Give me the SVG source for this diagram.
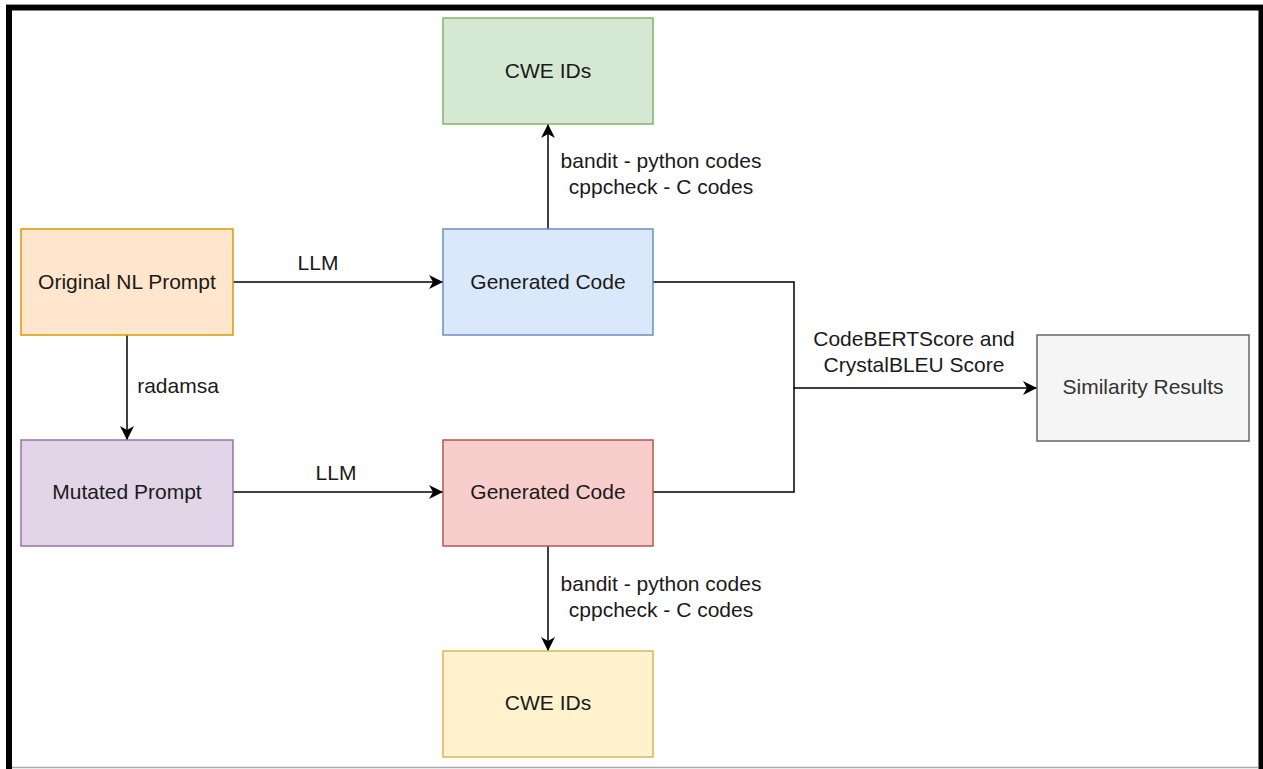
<svg xmlns="http://www.w3.org/2000/svg" width="1263" height="769" viewBox="0 0 1263 769">
<defs>
<marker id="arr" markerUnits="userSpaceOnUse" markerWidth="16" markerHeight="14" refX="14" refY="7" orient="auto">
<path d="M0,0 L14,7 L0,14 L4,7 Z" fill="#000"/>
</marker>
<style>
.n{stroke-width:1.5}
.t{font-family:"Liberation Sans",Arial,sans-serif;font-size:21px;fill:#1a1a1a;text-anchor:middle}
.l{font-family:"Liberation Sans",Arial,sans-serif;font-size:21px;fill:#1a1a1a;text-anchor:middle}
.c{fill:none;stroke:#000;stroke-width:1.5}
</style>
</defs>
<rect x="0" y="0" width="1263" height="769" fill="#fff"/>
<g id="frame">
<line x1="6" y1="4.5" x2="1263" y2="4.5" stroke="#999" stroke-width="1"/>
<rect x="6" y="5" width="1257" height="5.5" fill="#000"/>
<rect x="6" y="5" width="6" height="764" fill="#000"/>
<rect x="1258.5" y="5" width="4.5" height="764" fill="#000"/>
<line x1="12" y1="767.5" x2="1258" y2="767.5" stroke="#aaa" stroke-width="1.5"/>
</g>
<g id="connectors">
<path class="c" d="M233,282 H443" marker-end="url(#arr)"/>
<path class="c" d="M127,335 V440" marker-end="url(#arr)"/>
<path class="c" d="M233,492 H443" marker-end="url(#arr)"/>
<path class="c" d="M548,229 V124" marker-end="url(#arr)"/>
<path class="c" d="M548,546 V651" marker-end="url(#arr)"/>
<path class="c" d="M653,282 H794 V388 H1037" marker-end="url(#arr)"/>
<path class="c" d="M653,492 H794 V388"/>
<text class="l" x="318" y="270">LLM</text>
<text class="l" x="336" y="480">LLM</text>
<text class="l" x="178" y="393">radamsa</text>
<text class="l" x="661" y="168">bandit - python codes</text>
<text class="l" x="661" y="194">cppcheck - C codes</text>
<text class="l" x="661" y="591">bandit - python codes</text>
<text class="l" x="661" y="617">cppcheck - C codes</text>
<text class="l" x="914" y="346">CodeBERTScore and</text>
<text class="l" x="914" y="372">CrystalBLEU Score</text>
</g>
<g id="cwe-top">
<rect class="n" x="443" y="18" width="210" height="106" fill="#d5e8d4" stroke="#82b366"/>
<text class="t" x="548" y="78">CWE IDs</text>
</g>
<g id="original-prompt">
<rect class="n" x="21" y="229" width="212" height="106" fill="#ffe6cc" stroke="#d79b00"/>
<text class="t" x="127" y="289">Original NL Prompt</text>
</g>
<g id="generated-code-1">
<rect class="n" x="443" y="229" width="210" height="106" fill="#dae8fc" stroke="#6c8ebf"/>
<text class="t" x="548" y="289">Generated Code</text>
</g>
<g id="mutated-prompt">
<rect class="n" x="21" y="440" width="212" height="106" fill="#e1d5e7" stroke="#9673a6"/>
<text class="t" x="127" y="499">Mutated Prompt</text>
</g>
<g id="generated-code-2">
<rect class="n" x="443" y="440" width="210" height="106" fill="#f8cecc" stroke="#b85450"/>
<text class="t" x="548" y="499">Generated Code</text>
</g>
<g id="cwe-bottom">
<rect class="n" x="443" y="651" width="210" height="106" fill="#fff2cc" stroke="#d6b656"/>
<text class="t" x="548" y="710">CWE IDs</text>
</g>
<g id="similarity">
<rect class="n" x="1037" y="335" width="212" height="106" fill="#f5f5f5" stroke="#666666"/>
<text class="t" x="1143" y="394" style="fill:#333">Similarity Results</text>
</g>
</svg>
